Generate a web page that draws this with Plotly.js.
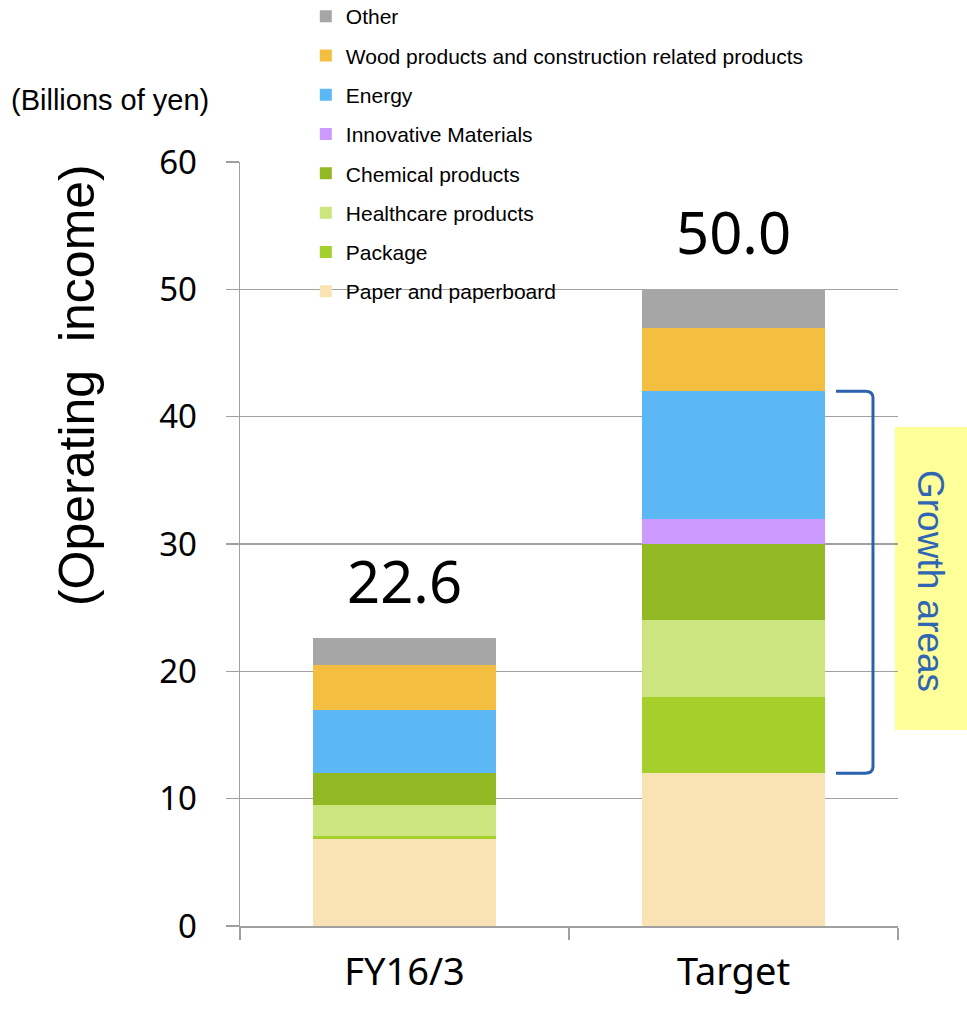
<!DOCTYPE html>
<html>
<head>
<meta charset="utf-8">
<script src="https://cdn.plot.ly/plotly-3.0.1.min.js"></script>
<style>html,body{margin:0;padding:0;background:#fff;}#chart{width:967px;height:1012px;}</style>
</head>
<body>
<div id="chart"></div>
<script>
// ---- data ----
const categories = ["FY16/3", "Target"];
const seriesNames = ["Paper and paperboard", "Package", "Healthcare products", "Chemical products",
  "Innovative Materials", "Energy", "Wood products and construction related products", "Other"];
const paperVals      = [6.8, 12];
const packageVals    = [0.3, 6];
const healthcareVals = [2.4, 6];
const chemicalVals   = [2.5, 6];
const innovativeVals = [0, 2];
const energyVals     = [5.0, 10];
const woodVals       = [3.5, 5];
const otherVals      = [2.1, 3];
const totalLabels    = ["22.6", "50.0"];
const yTickVals      = [0, 10, 20, 30, 40, 50, 60];

const seriesValues = [paperVals, packageVals, healthcareVals, chemicalVals, innovativeVals, energyVals, woodVals, otherVals];
const colors = ["#F9E3B4", "#A5CF2A", "#CCE57E", "#92B824", "#CC99FF", "#5BB8F5", "#F4BE40", "#A6A6A6"];

const traces = seriesNames.map((name, i) => ({
  type: "bar",
  name: name,
  x: categories,
  y: seriesValues[i],
  marker: {color: colors[i], line: {width: 0}},
  legendgroup: "g" + i,
  legendrank: 1000 + (seriesNames.length - i) * 10,
  hoverinfo: "name+y"
}));

const totals = categories.map((c, j) => seriesValues.reduce((s, arr) => s + arr[j], 0));
// growth areas: Package..Energy on Target
const gStart = paperVals[1];
const gEnd = paperVals[1] + packageVals[1] + healthcareVals[1] + chemicalVals[1] + innovativeVals[1] + energyVals[1];

const gray = "#A0A0A0";
const bx0 = 0.9058, bx1 = 0.962, r = 0.012, ry = 0.5;
const bracketPath = `M ${bx0},${gEnd} L ${bx1 - r},${gEnd} Q ${bx1},${gEnd} ${bx1},${gEnd - ry} ` +
  `L ${bx1},${gStart + ry} Q ${bx1},${gStart} ${bx1 - r},${gStart} L ${bx0},${gStart}`;

const annotations = categories.map((c, j) => ({
  x: c, y: totals[j], xref: "x", yref: "y",
  text: totalLabels[j], showarrow: false, yanchor: "bottom", yshift: 16,
  font: {family: "Noto Sans", size: 58, color: "#000"}
}));
annotations.push({
  xref: "paper", yref: "paper", x: -0.1976, y: 1.0812, xanchor: "center", yanchor: "middle",
  text: "(Billions of yen)", showarrow: false,
  font: {family: "Liberation Sans", size: 29, color: "#000"}
});
annotations.push({
  xref: "paper", yref: "paper", x: -0.2477, y: 0.708, xanchor: "center", yanchor: "middle",
  text: "(Operating  income)", showarrow: false, textangle: -90,
  font: {family: "Liberation Sans", size: 50, color: "#000"}
});
annotations.push({
  xref: "paper", yref: "paper", x: 1.0502, y: 0.4515, xanchor: "center", yanchor: "middle",
  text: "Growth areas", showarrow: false, textangle: 90,
  font: {family: "Liberation Sans", size: 37, color: "#2F66B3"}
});

const layout = {
  width: 967, height: 1012,
  margin: {l: 240, r: 69, t: 162, b: 86, autoexpand: false},
  paper_bgcolor: "#fff", plot_bgcolor: "#fff",
  barmode: "stack", bargap: 0.444,
  showlegend: true,
  legend: {
    traceorder: "grouped", x: 0.1, xanchor: "left", y: 1.2173, yanchor: "top",
    bgcolor: "rgba(0,0,0,0)", tracegroupgap: 9,
    font: {family: "Liberation Sans", size: 21, color: "#000"}
  },
  xaxis: {
    type: "category", tickson: "boundaries", ticks: "outside", ticklen: 12, tickcolor: gray, tickwidth: 1.5,
    showline: true, linecolor: gray, linewidth: 1.5, showgrid: false,
    tickfont: {family: "Noto Sans", size: 38, color: "#000"}, ticklabelstandoff: 12
  },
  yaxis: {
    range: [0, 60], tickvals: yTickVals, ticktext: yTickVals.map(String),
    ticks: "outside", ticklen: 13, tickcolor: gray, tickwidth: 1.5,
    showline: true, linecolor: gray, linewidth: 1.5,
    showgrid: true, gridcolor: gray, gridwidth: 1.5, zeroline: false,
    tickfont: {family: "Noto Sans", size: 33, color: "#000"}, ticklabelstandoff: 22
  },
  shapes: [
    {type: "rect", xref: "paper", yref: "paper", x0: 0.9954, x1: 1.1049, y0: 0.2565, y1: 0.653,
     fillcolor: "#FFFF99", line: {width: 0}, layer: "below"},
    {type: "path", xref: "paper", yref: "y", path: bracketPath, line: {color: "#2A62AE", width: 3}}
  ],
  annotations: annotations
};

Plotly.newPlot("chart", traces, layout, {displayModeBar: false, staticPlot: true});
</script>
</body>
</html>
